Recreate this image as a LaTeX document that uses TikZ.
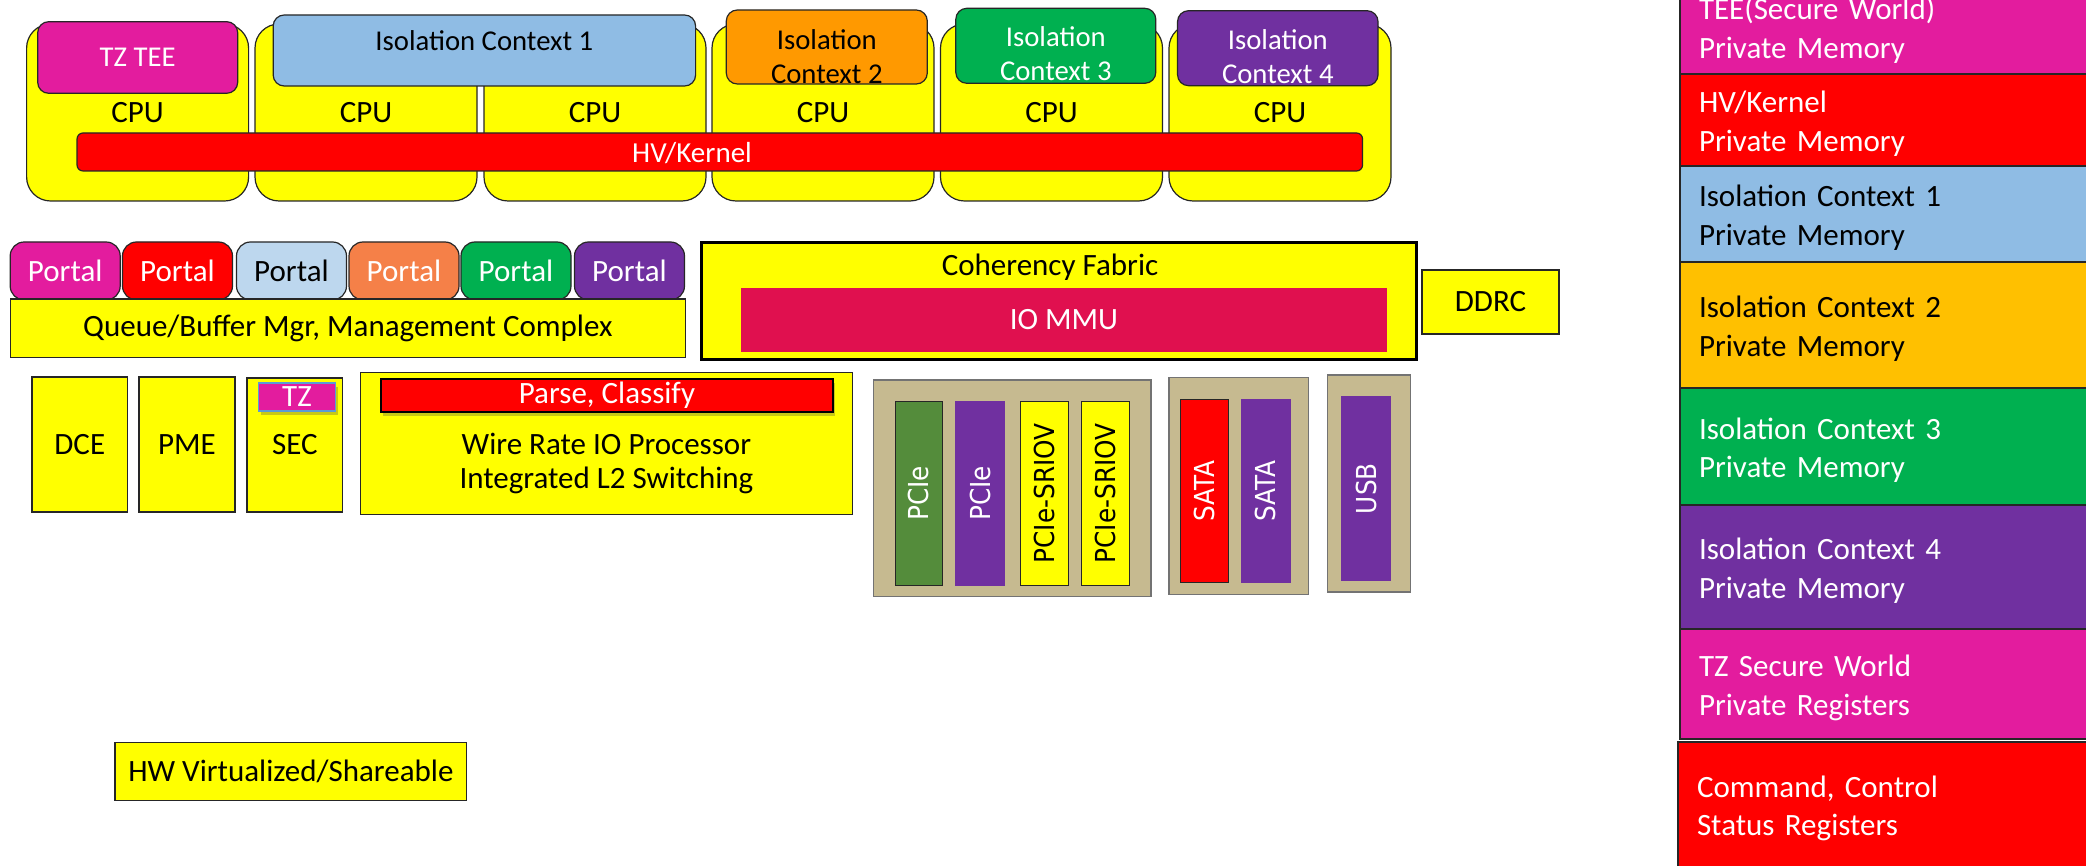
\documentclass[tikz,border=0pt]{standalone}
\usepackage{fontspec}
\setmainfont{Carlito}
\newfontfamily\barfamily[FakeStretch=0.9]{DejaVu Sans}
\usetikzlibrary{shadows}

\definecolor{socyellow}{HTML}{FFFF00}
\definecolor{tzmagenta}{HTML}{E31C9E}
\definecolor{hvred}{HTML}{FF0000}
\definecolor{ctxblue}{HTML}{8FBCE4}
\definecolor{portalblue}{HTML}{BDD7EE}
\definecolor{ctxorange}{HTML}{FF9900}
\definecolor{portalorange}{HTML}{F58048}
\definecolor{ctxgold}{HTML}{FFC000}
\definecolor{ctxgreen}{HTML}{00B050}
\definecolor{ctxpurple}{HTML}{7030A0}
\definecolor{mmucrimson}{HTML}{E0104F}
\definecolor{iotan}{HTML}{C6BA90}
\definecolor{pciegreen}{HTML}{548C3B}
\definecolor{tzedge}{HTML}{5B9BD5}
\definecolor{edge}{HTML}{262626}

\begin{document}
\begin{tikzpicture}[x=1pt, y=-1pt,
  every node/.style={inner sep=0pt, outer sep=0pt},
  txt/.style={font=\fontsize{31}{36}\selectfont},
  blk/.style={draw=edge, line width=1.2pt, txt},
  cpu/.style={blk, fill=socyellow, rounded corners=24pt, minimum width=222pt, minimum height=177pt},
  ctx/.style={blk, rounded corners=11pt, font=\fontsize{28.7}{34}\selectfont},
  ctxlbl/.style={align=center, font=\fontsize{28.7}{34}\selectfont},
  portal/.style={blk, rounded corners=14pt, minimum width=110pt, minimum height=58pt, text=white},
  engine/.style={blk, fill=socyellow},
  iogroup/.style={draw=black!55, line width=1.2pt, fill=iotan},
  iobar/.style={draw=edge, line width=1pt, rotate=90, minimum width=183.5pt, minimum height=48pt,
    font=\barfamily\fontsize{27.5}{32}\selectfont},
  legendbox/.style={draw=edge, line width=1.2pt, anchor=north west, text width=382pt, inner xsep=19pt,
    align=left, font=\fontsize{31}{38.5}\selectfont,
    execute at begin node={\rule{0pt}{29pt}}},
  softshadow/.style={drop shadow={shadow xshift=2pt, shadow yshift=-4pt, opacity=0.3, fill=black!70}},
]
\useasboundingbox (0,0) rectangle (2086,866);

% ---- CPU cluster ----
\node[cpu] (cpu1) at (137.6,112.5) {CPU};
\node[cpu] (cpu2) at (366,112.5) {CPU};
\node[cpu] (cpu3) at (595,112.5) {CPU};
\node[cpu] (cpu4) at (823,112.5) {CPU};
\node[cpu] (cpu5) at (1051.5,112.5) {CPU};
\node[cpu] (cpu6) at (1280,112.5) {CPU};

% execution contexts on top of the cores
\node[ctx, fill=tzmagenta, text=white, minimum width=200pt, minimum height=71.6pt] (tee) at (137.7,57.5) {TZ TEE};
\node[ctx, fill=ctxblue, minimum width=422.4pt, minimum height=71pt] (ic1) at (484.4,50.5) {};
\node[ctxlbl] (ic1lbl) at (484.4,41) {Isolation Context 1};
\node[ctx, fill=ctxorange, minimum width=201pt, minimum height=74pt] (ic2) at (826.8,47) {};
\node[ctxlbl] (ic2lbl) at (826.8,56.5) {Isolation\\Context 2};
\node[ctx, fill=ctxgreen, minimum width=200pt, minimum height=75pt] (ic3) at (1055.8,45.8) {};
\node[ctxlbl, text=white] (ic3lbl) at (1055.8,53.5) {Isolation\\Context 3};
\node[ctx, fill=ctxpurple, minimum width=200.5pt, minimum height=75pt] (ic4) at (1277.8,48.2) {};
\node[ctxlbl, text=white] (ic4lbl) at (1277.8,56.5) {Isolation\\Context 4};

% hypervisor spanning all cores
\node[blk, fill=hvred, rounded corners=6pt, minimum width=1285.5pt, minimum height=38pt] (hv) at (719.8,152) {};
\node[font=\fontsize{29}{34}\selectfont, text=white] (hvlbl) at (692,153) {HV/Kernel};

% ---- queue manager with portals ----
\node[portal, fill=tzmagenta] (p1) at (65.2,271) {Portal};
\node[portal, fill=hvred] (p2) at (177.5,271) {Portal};
\node[portal, fill=portalblue, text=black] (p3) at (291.5,271) {Portal};
\node[portal, fill=portalorange] (p4) at (404,271) {Portal};
\node[portal, fill=ctxgreen] (p5) at (516,271) {Portal};
\node[portal, fill=ctxpurple] (p6) at (629.5,271) {Portal};
\node[engine, minimum width=675.4pt, minimum height=58.3pt] (qman) at (347.8,328.2) {Queue/Buffer Mgr, Management Complex};

% ---- coherency fabric ----
\node[engine, draw=black, line width=3pt, minimum width=714.6pt, minimum height=116.3pt] (fabric) at (1058.7,300.9) {};
\node[txt] (fabriclbl) at (1050,267) {Coherency Fabric};
\node[txt, fill=mmucrimson, text=white, minimum width=646pt, minimum height=63.7pt] (iommu) at (1064,319.9) {IO MMU};
\node[engine, minimum width=137pt, minimum height=64pt] (ddrc) at (1490.5,302) {DDRC};

% ---- accelerators ----
\node[engine, minimum width=95.6pt, minimum height=135pt] (dce) at (79.8,444.5) {DCE};
\node[engine, minimum width=96pt, minimum height=135pt] (pme) at (187,444.5) {PME};
\node[engine, minimum width=95.5pt, minimum height=134pt] (sec) at (294.8,445) {SEC};
\node[txt, fill=tzmagenta, draw=tzedge, line width=1.5pt, text=white, minimum width=77pt, minimum height=28pt, softshadow] (sectz) at (297,397) {TZ};

\node[engine, minimum width=492pt, minimum height=141.6pt] (wrio) at (606.4,443.5) {};
\node[txt, fill=hvred, draw=black, line width=2pt, text=white, minimum width=452pt, minimum height=33pt, softshadow] (parse) at (607,395.5) {Parse, Classify};
\node[align=center, font=\fontsize{31}{34}\selectfont] (wriolbl) at (606.4,463) {Wire Rate IO Processor\\Integrated L2 Switching};

% ---- peripheral IO ----
\node[iogroup, minimum width=277.4pt, minimum height=216.7pt] (pciegrp) at (1012.2,488.4) {};
\node[iobar, fill=pciegreen, text=white, minimum height=47.4pt] (pcie1) at (918.7,493.4) {PCIe};
\node[iobar, fill=ctxpurple, draw=ctxpurple, text=white, minimum height=48.7pt] (pcie2) at (980,493.4) {PCIe};
\node[iobar, fill=socyellow] (sriov1) at (1044,493.4) {PCIe-SRIOV};
\node[iobar, fill=socyellow, minimum height=47.8pt] (sriov2) at (1105.4,493.4) {PCIe-SRIOV};

\node[iogroup, minimum width=139.3pt, minimum height=216.6pt] (satagrp) at (1238.7,486) {};
\node[iobar, fill=hvred, text=white, minimum height=48.5pt] (sata1) at (1204.3,490.9) {SATA};
\node[iobar, fill=ctxpurple, draw=ctxpurple, text=white, minimum height=48.2pt] (sata2) at (1265.9,490.9) {SATA};

\node[iogroup, minimum width=83.1pt, minimum height=217pt] (usbgrp) at (1369.2,483.5) {};
\node[iobar, fill=ctxpurple, draw=ctxpurple, text=white, minimum width=184pt, minimum height=48.6pt] (usb) at (1366.2,488.7) {USB};

% ---- key ----
\node[engine, minimum width=351.7pt, minimum height=58pt] (hwkey) at (290.9,771.7) {HW Virtualized/Shareable};

\node[legendbox, fill=tzmagenta, text=white, minimum height=94pt] (lgtee) at (1680,-20) {TEE(Secure World)\\Private Memory};
\node[legendbox, fill=hvred, text=white, minimum height=92pt] (lghv) at (1680,74) {HV/Kernel\\Private Memory};
\node[legendbox, fill=ctxblue, minimum height=96pt] (lgic1) at (1680,166) {Isolation Context 1\\Private Memory};
\node[legendbox, fill=ctxgold, minimum height=126pt] (lgic2) at (1680,262) {Isolation Context 2\\Private Memory};
\node[legendbox, fill=ctxgreen, text=white, minimum height=117pt] (lgic3) at (1680,388) {Isolation Context 3\\Private Memory};
\node[legendbox, fill=ctxpurple, text=white, minimum height=124pt] (lgic4) at (1680,505) {Isolation Context 4\\Private Memory};
\node[legendbox, fill=tzmagenta, text=white, minimum height=110pt] (lgtzreg) at (1680,629) {TZ Secure World\\Private Registers};
\node[legendbox, fill=hvred, text=white, minimum height=125pt] (lgcsr) at (1678,742) {Command, Control\\Status Registers};
\end{tikzpicture}
\end{document}
